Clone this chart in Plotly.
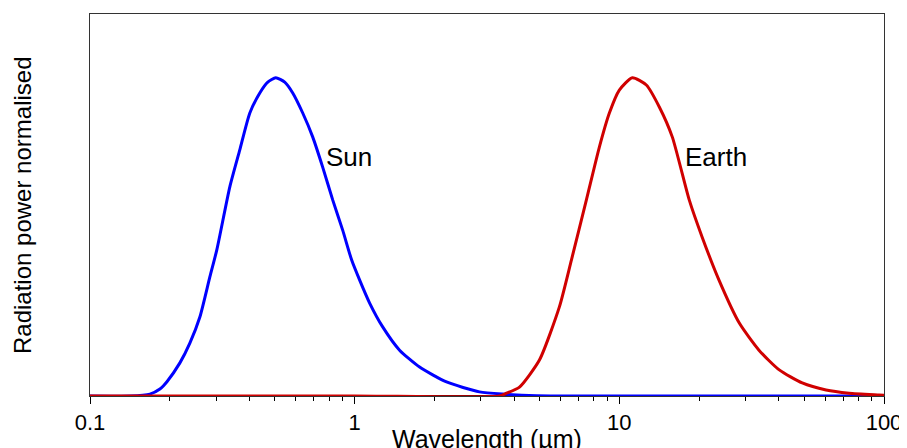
import plotly.graph_objects as go
import math

# Sun spectrum (wavelength in µm, normalised power)
sun_wl = [0.1, 0.1416, 0.1684, 0.1837, 0.1953, 0.2186, 0.2384, 0.2601, 0.2837, 0.3014, 0.3375,
          0.3681, 0.4017, 0.4381, 0.4696, 0.5032, 0.5442, 0.5834, 0.6364, 0.694, 0.7571, 0.826,
          0.901, 0.9743, 1.0445, 1.139, 1.276, 1.478, 1.759, 2.224, 2.963, 3.618, 4.862, 10.0, 100.0]
sun_pw = [0.0, 0.0, 0.006, 0.022, 0.045, 0.104, 0.166, 0.248, 0.374, 0.459, 0.657,
          0.773, 0.889, 0.952, 0.986, 1.0, 0.986, 0.952, 0.889, 0.814, 0.719, 0.616,
          0.521, 0.427, 0.364, 0.292, 0.217, 0.144, 0.091, 0.044, 0.013, 0.006, 0.001, 0.0, 0.0]

# Earth spectrum
earth_wl = [0.1, 1.0, 3.52, 3.747, 4.195, 4.99, 5.936, 6.59, 7.508, 8.405, 9.17, 10.0, 11.2,
            12.65, 14.16, 15.85, 18.37, 20.56, 23.8, 28.4, 33.7, 40.2,
            49.1, 60.4, 73.8, 95.8, 100.0]
earth_pw = [0.0, 0.0, 0.0, 0.009, 0.028, 0.113, 0.280, 0.427, 0.616, 0.782, 0.889, 0.961, 1.0,
            0.977, 0.908, 0.814, 0.616, 0.499, 0.364, 0.229, 0.144, 0.082,
            0.041, 0.019, 0.009, 0.003, 0.002]

major_ticks = [0.1, 1, 10, 100]
major_labels = ["0.1", "1", "10", "100"]
minor_ticks = [m * d for d in [0.1, 1, 10] for m in range(2, 10)]

labels = [("Sun", 0.949, 0.75), ("Earth", 23.2, 0.75)]

FONT = "Liberation Sans, Arial, sans-serif"

fig = go.Figure()
fig.add_trace(go.Scatter(x=sun_wl, y=sun_pw, mode="lines",
                         line=dict(color="#0000FF", width=3, shape="spline", smoothing=0.6),
                         showlegend=False, hoverinfo="skip"))
fig.add_trace(go.Scatter(x=earth_wl, y=earth_pw, mode="lines",
                         line=dict(color="#D00000", width=3, shape="spline", smoothing=0.6),
                         showlegend=False, hoverinfo="skip"))
# invisible trace to drive the minor-tick axis
fig.add_trace(go.Scatter(x=[0.1, 100], y=[0, 0], xaxis="x2", mode="lines", line=dict(width=0),
                         showlegend=False, hoverinfo="skip"))

for txt, xv, yv in labels:
    fig.add_annotation(x=math.log10(xv), y=yv, text=txt, showarrow=False,
                       font=dict(family=FONT, size=26, color="black"))

fig.add_annotation(x=0.5, y=0, xref="paper", yref="paper", yanchor="top", yshift=-27,
                   text="Wavelength (µm)", showarrow=False, font=dict(family=FONT, size=25, color="black"))
fig.add_annotation(x=0, y=0.5, xref="paper", yref="paper", xanchor="center", xshift=-68,
                   text="Radiation power normalised", textangle=-90, showarrow=False,
                   font=dict(family=FONT, size=24, color="black"))

# page body has an 8px default margin, so the figure is sized to fill the rest of the window
fig.update_layout(
    width=899, height=440,
    margin=dict(l=82, r=23, t=6, b=52, autoexpand=False),
    paper_bgcolor="white", plot_bgcolor="white",
    font=dict(family=FONT, size=22, color="black"),
    xaxis=dict(type="log", range=[-1, 2], tickvals=major_ticks, ticktext=major_labels,
               ticks="outside", ticklen=7, tickcolor="black", tickwidth=1, automargin=False,
               showgrid=False, zeroline=False, showline=True, linecolor="#333333", linewidth=1, mirror=True,
               tickfont=dict(family=FONT, size=22, color="black")),
    xaxis2=dict(type="log", range=[-1, 2], overlaying="x", side="bottom", anchor="y",
                tickvals=minor_ticks, ticks="outside", ticklen=4, tickcolor="black", tickwidth=1,
                showticklabels=False, showgrid=False, zeroline=False, showline=False, automargin=False),
    yaxis=dict(range=[0, 1.2], showticklabels=False, ticks="", showgrid=False, zeroline=False,
               showline=True, linecolor="#333333", linewidth=1, mirror=True, automargin=False),
)
fig.add_shape(type="line", xref="paper", yref="paper", x0=0, x1=1, y0=0, y1=0,
              line=dict(color="black", width=2), layer="below")

fig.write_html("out.html")
